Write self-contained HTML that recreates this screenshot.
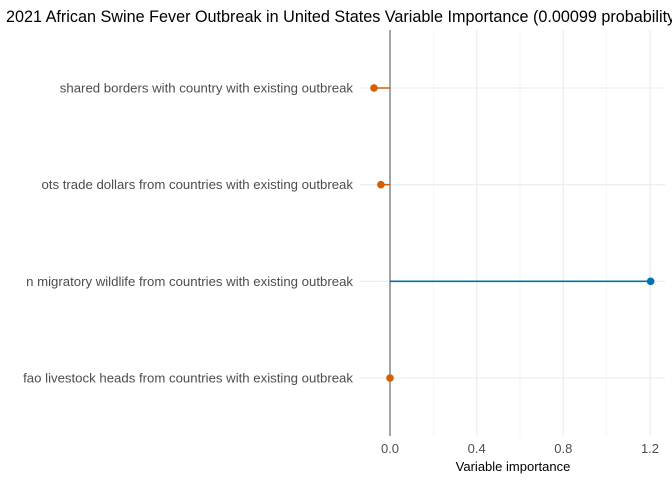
<!DOCTYPE html>
<html><head><meta charset="utf-8"><style>
body{margin:0;background:#fff;}
svg{display:block;font-family:"Liberation Sans",sans-serif;}
</style></head><body>
<svg id="chart" width="672" height="480">
<text x="6" y="22" font-size="16.2" fill="#000">2021 African Swine Fever Outbreak in United States Variable Importance (0.00099 probability)</text>
<g id="grid"></g>
<g id="marks"></g>
<g id="labels"></g>
<text x="513" y="471" font-size="13" text-anchor="middle" fill="#000">Variable importance</text>
</svg>
<script>
const categories=["shared borders with country with existing outbreak","ots trade dollars from countries with existing outbreak","n migratory wildlife from countries with existing outbreak","fao livestock heads from countries with existing outbreak"];
const values=[-0.074,-0.042,1.203,0.0];
const xTicks=[0,0.4,0.8,1.2];
const xTickLabels=["0.0","0.4","0.8","1.2"];
const xMinor=[0.2,0.6,1.0];
const ns="http://www.w3.org/2000/svg";
const L=360,R=665,T=30,B=436;
const x=v=>390+v*(650-390)/1.2;
const y=i=>88+i*(378-88)/(categories.length-1);
function mk(t,a,p){const e=document.createElementNS(ns,t);for(const k in a)e.setAttribute(k,a[k]);p.appendChild(e);return e;}
const g=document.getElementById('grid'),m=document.getElementById('marks'),lb=document.getElementById('labels');
xMinor.forEach(v=>{const e=mk('line',{x1:x(v),x2:x(v),y1:T,y2:B,stroke:'#f0f0f0','stroke-width':0.6},g);

});
xTicks.forEach((v,i)=>{const e=mk('line',{x1:x(v),x2:x(v),y1:T,y2:B,stroke:'#ebebeb','stroke-width':1.1},g);


const t=mk('text',{x:x(v),y:453,'font-size':13,'text-anchor':'middle',fill:'#4d4d4d'},lb);t.textContent=xTickLabels[i];

});
categories.forEach((c,i)=>{const e=mk('line',{x1:L,x2:R,y1:y(i),y2:y(i),stroke:'#ebebeb','stroke-width':1.1},g);


const t=mk('text',{x:353,y:y(i)+4.5,'font-size':13.2,'text-anchor':'end',fill:'#4d4d4d'},lb);t.textContent=c;

});
const z=mk('line',{x1:x(0),x2:x(0),y1:T,y2:B,stroke:'#7f7f7f','stroke-width':1.4},m);


values.forEach((v,i)=>{const col=v>0?'#0072B2':'#D55E00';
const s=mk('line',{x1:x(0),x2:x(v),y1:y(i),y2:y(i),stroke:col,'stroke-width':1.6},m);


const p=mk('circle',{cx:x(v),cy:y(i),r:3.8,fill:col},m);

});
</script>
</body></html>
